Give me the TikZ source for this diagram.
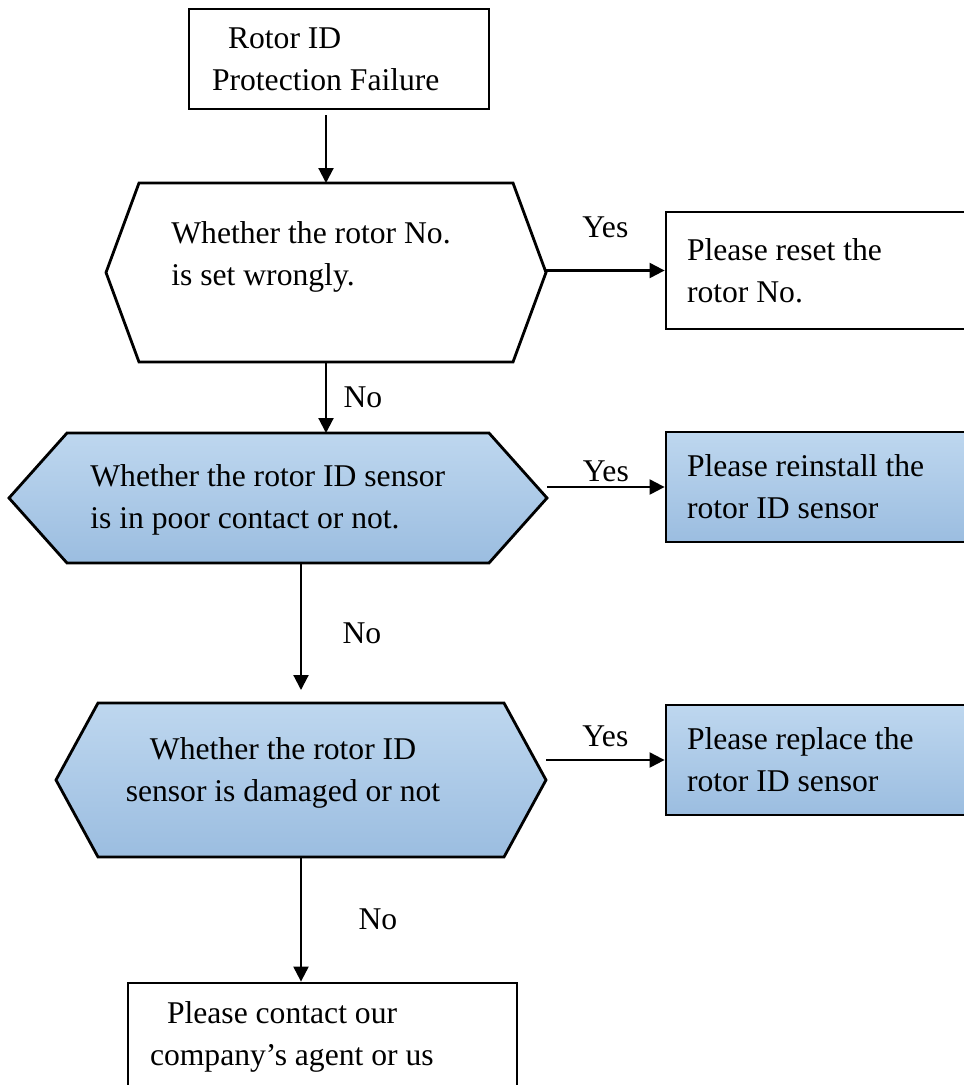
\documentclass[tikz,border=0pt]{standalone}
\usepackage{fontspec}
\setmainfont{Liberation Serif}
\usepackage{xcolor}
\definecolor{fbluetop}{RGB}{190,215,239}
\definecolor{fbluebot}{RGB}{155,189,224}
\usetikzlibrary{arrows.meta,positioning}

\begin{document}
\begin{tikzpicture}[
    font=\fontsize{18}{24}\selectfont,
    stepbox/.style={rectangle, draw=black, line width=1.6pt, align=flush left,
                    inner ysep=0pt},
    actbox/.style={stepbox, minimum width=6.68cm, text width=5.84cm,
                   inner xsep=0.42cm},
    bluefill/.style={top color=fbluetop, bottom color=fbluebot},
    hexbox/.style={rectangle, inner sep=0pt, outer sep=0pt},
    hexline/.style={draw=black, line width=1.6pt, line join=miter},
    txt/.style={inner sep=0pt, align=left},
    lbl/.style={inner sep=0pt},
    arr/.style={-{Triangle[length=0.3cm, width=0.3cm]}, line width=1.2pt}
  ]
    \useasboundingbox (0,0) rectangle (19.28,-21.70);
    \clip (0,0) rectangle (19.28,-21.70);

    % Start
    \node[stepbox, minimum width=6.0cm, minimum height=2.0cm, text width=5.08cm,
          inner xsep=0.46cm] (start) at (6.78,-1.18)
      {\hspace*{0.32cm}Rotor ID\\Protection Failure};

    % Check 1: rotor No.
    \node[hexbox, minimum width=8.8cm, minimum height=3.58cm] (h1) at (6.52,-5.45) {};
    \draw[hexline] (h1.west) -- ([xshift=0.66cm]h1.north west) -- ([xshift=-0.66cm]h1.north east)
      -- (h1.east) -- ([xshift=-0.66cm]h1.south east) -- ([xshift=0.66cm]h1.south west) -- cycle;
    \node[txt, anchor=west] (h1txt) at (3.42,-5.14) {Whether the rotor No.\\is set wrongly.};

    % Check 2: poor contact
    \node[hexbox, minimum width=10.76cm, minimum height=2.6cm] (h2) at (5.56,-9.96) {};
    \draw[hexline, bluefill] (h2.west) -- ([xshift=1.16cm]h2.north west) -- ([xshift=-1.16cm]h2.north east)
      -- (h2.east) -- ([xshift=-1.16cm]h2.south east) -- ([xshift=1.16cm]h2.south west) -- cycle;
    \node[txt, anchor=west] (h2txt) at (1.80,-10.0) {Whether the rotor ID sensor\\is in poor contact or not.};

    % Check 3: damaged
    \node[hexbox, minimum width=9.8cm, minimum height=3.08cm] (h3) at (6.02,-15.6) {};
    \draw[hexline, bluefill] (h3.west) -- ([xshift=0.84cm]h3.north west) -- ([xshift=-0.84cm]h3.north east)
      -- (h3.east) -- ([xshift=-0.84cm]h3.south east) -- ([xshift=0.84cm]h3.south west) -- cycle;
    \node[txt, align=center] (h3txt) at (5.66,-15.46) {Whether the rotor ID\\sensor is damaged or not};

    % Actions
    \node[actbox, minimum height=2.34cm] (r1) at (16.66,-5.41) {Please reset the\\rotor No.};
    \node[actbox, bluefill, minimum height=2.2cm] (r2) at (16.66,-9.74) {Please reinstall the\\rotor ID sensor};
    \node[actbox, bluefill, minimum height=2.2cm] (r3) at (16.66,-15.2) {Please replace the\\rotor ID sensor};
    \node[stepbox, minimum width=7.78cm, minimum height=2.16cm, text width=6.9cm,
          inner xsep=0.44cm] (fin) at (6.45,-20.74)
      {\hspace*{0.34cm}Please contact our\\company’s agent or us};

    % No branch
    \draw[arr, shorten <=0.1cm] (start.south -| h1.north) -- (h1.north);
    \draw[arr] (h1.south) -- node[lbl, right=0.33cm] (no1) {No} (h1.south |- h2.north);
    \draw[arr, shorten >=0.26cm] (h3.north |- h2.south) -- node[lbl, right=0.81cm] (no2) {No} (h3.north);
    \draw[arr] (h3.south) -- node[lbl, right=1.13cm] (no3) {No} (h3.south |- fin.north);

    % Yes branch
    \draw[arr] (h1.east |- r1.west) -- node[lbl, above=0.64cm] (yes1) {Yes} (r1.west);
    \draw[arr] (h2.east |- r2.west) -- node[lbl, above=0.09cm] (yes2) {Yes} (r2.west);
    \draw[arr] (h3.east |- r3.west) -- node[lbl, above=0.25cm] (yes3) {Yes} (r3.west);
  \end{tikzpicture}
\end{document}
